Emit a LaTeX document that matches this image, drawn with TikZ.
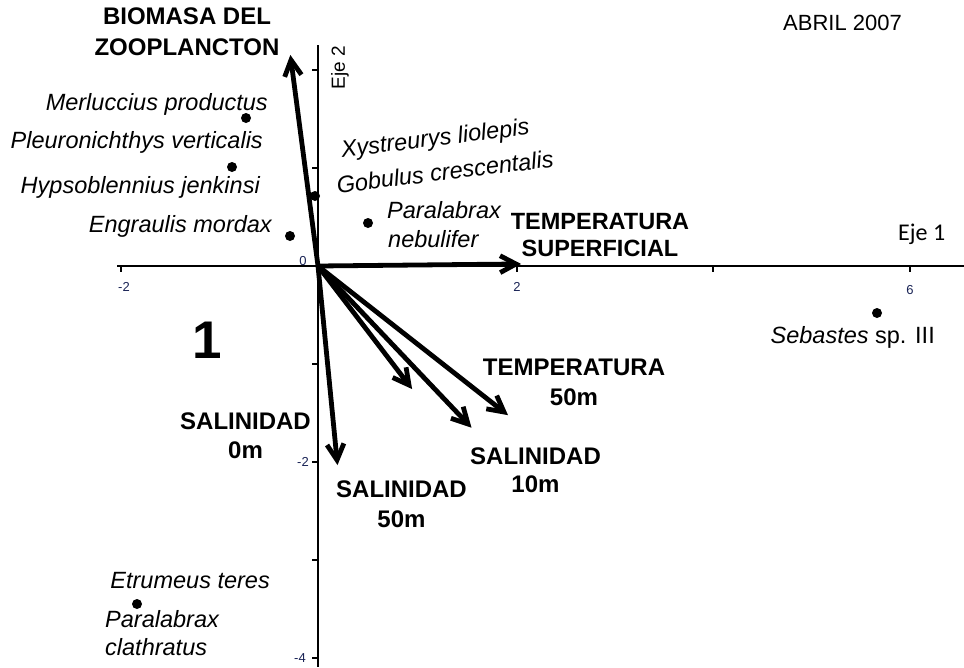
\documentclass[tikz,border=0pt]{standalone}
\usepackage{fontspec}
\setmainfont{Liberation Sans}
\newfontfamily\calib{Carlito}
\usetikzlibrary{calc}
\definecolor{ticknavy}{RGB}{25,35,85}
\begin{document}
\begin{tikzpicture}[x=1pt,y=-1pt,
  axisline/.style={line width=1.8pt},
  tickline/.style={line width=1.8pt},
  vec/.style={line width=4.8pt,line cap=butt},
  barb/.style={line width=4.8pt,line join=miter,line cap=butt},
  dot/.style={circle,fill,inner sep=0pt,minimum size=10pt},
  sp/.style={font=\fontsize{23.5}{28}\selectfont\itshape,inner sep=0pt},
  lab/.style={font=\fontsize{24}{29}\selectfont\bfseries,inner sep=0pt,align=center},
  tl/.style={font=\fontsize{13}{15}\selectfont,text=ticknavy,inner sep=0pt}]
\useasboundingbox (0,0) rectangle (964,667);
% axes
\coordinate (hL) at (117,266);
\coordinate (hR) at (964,266);
\coordinate (vT) at (318,45);
\coordinate (vB) at (318,667);
\draw[axisline] (hL) -- (hR);
\draw[axisline] (vT) -- (vB);
% ticks horizontal
\foreach \x/\n in {121/hm2,517/hp2,713/hp4,910/hp6}{
  \coordinate (\n) at (\x,266);
  \draw[tickline] (\n) -- ++(0,6);
}
% ticks vertical
\foreach \y/\n in {70/vp2,168/vp1,364/vm1,462/vm2,560/vm3,658/vm4}{
  \coordinate (\n) at (318,\y);
  \draw[tickline] (\n) -- ++(-6,0);
}
% tick labels
\node[tl] (tlm2) at (124,287) {-2};
\node[tl] (tl0) at (303,261) {0};
\node[tl] (tlp2) at (517,287) {2};
\node[tl] (tlp6) at (910,290) {6};
\node[tl] (tlvm2) at (303,462) {-2};
\node[tl] (tlvm4) at (300,658) {-4};
% axis names
\node[font=\calib\fontsize{24}{28}\selectfont,anchor=base west,inner sep=0pt] (eje1) at (898,240) {Eje 1};
\node[font=\fontsize{19}{22}\selectfont,rotate=90,inner sep=0pt] (eje2) at (340,68) {Eje 2};
\node[font=\fontsize{22}{26}\selectfont,anchor=base west,inner sep=0pt] (abril) at (783,30) {ABRIL 2007};
% vectors
\coordinate (o) at (318,266);
\coordinate (hBio) at (291,60);
\coordinate (hTS) at (516,264);
\coordinate (hA) at (409,385);
\coordinate (hS10) at (468,424);
\coordinate (hT50) at (504,412);
\coordinate (hS0) at (337,460);
\foreach \h in {hBio,hTS,hA,hS10,hT50,hS0}{
  \draw[vec] (o) -- (\h);
  \draw[barb] ($(\h)!18pt!28:(o)$) -- (\h) -- ($(\h)!18pt!-28:(o)$);
}
% vector labels
\node[lab,anchor=north] (lbio) at (187,8) {BIOMASA DEL\\[2pt]ZOOPLANCTON};
\node[lab,anchor=north,font=\fontsize{23.5}{27.5}\selectfont\bfseries] (lts) at (600,213) {TEMPERATURA\\SUPERFICIAL};
\node[lab,anchor=north,font=\fontsize{24}{30}\selectfont\bfseries] (lt50) at (574,359) {TEMPERATURA\\50m};
\node[lab,anchor=north] (ls0) at (245.5,413) {SALINIDAD\\0m};
\node[lab,anchor=north,font=\fontsize{24}{28}\selectfont\bfseries] (ls10) at (535.5,448) {SALINIDAD\\10m};
\node[lab,anchor=north,font=\fontsize{24}{30}\selectfont\bfseries] (ls50) at (401.5,481) {SALINIDAD\\50m};
\node[font=\fontsize{53}{60}\selectfont\bfseries,anchor=base,inner sep=0pt] (one) at (207,358) {1};
% species
\node[dot] (merl) at (246,118) {};
\node[sp,anchor=base east] (merlT) at (268,110) {Merluccius productus};
\node[sp,anchor=base east] (pleuT) at (263,148) {Pleuronichthys verticalis};
\node[dot] (pleu) at (232,167) {};
\node[sp,anchor=base east] (hypsT) at (260,193) {Hypsoblennius jenkinsi};
\node[dot] (engr) at (290,236) {};
\node[sp,anchor=base east] (engrT) at (272,232) {Engraulis mordax};
\node[dot] (gob) at (315,196) {};
\node[sp,rotate=7,anchor=base] (xysT) at (436,146) {Xystreurys liolepis};
\node[sp,rotate=7,anchor=base] (gobT) at (446,180) {Gobulus crescentalis};
\node[dot] (pneb) at (368,223) {};
\node[sp,anchor=base west] (pnebT1) at (387,218) {Paralabrax};
\node[sp,anchor=base west] (pnebT2) at (388,247) {nebulifer};
\node[dot] (seb) at (877,313) {};
\node[sp,anchor=base east] (sebT) at (935,343) {Sebastes\upshape{} sp. III};
\node[sp,anchor=base east] (etrT) at (270,588) {Etrumeus teres};
\node[dot] (etr) at (137,604) {};
\node[sp,anchor=base west] (pclT1) at (105,627) {Paralabrax};
\node[sp,anchor=base west] (pclT2) at (105,655) {clathratus};
\end{tikzpicture}
\end{document}
